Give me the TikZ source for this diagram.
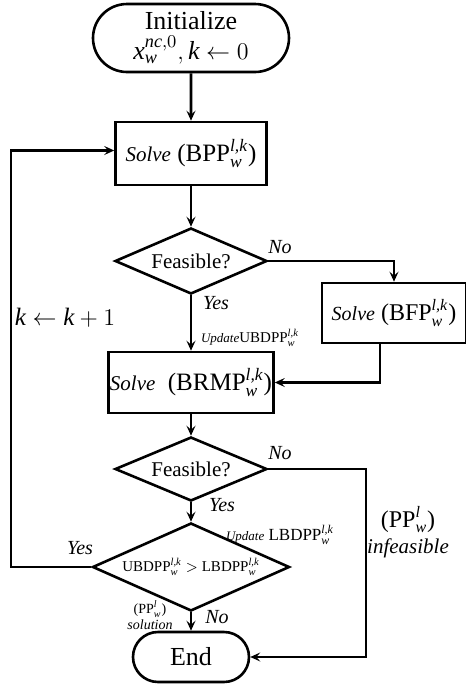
\documentclass[tikz,border=0pt]{standalone}
\usepackage{amsmath}
\usepackage{fontspec}
\setmainfont{Liberation Serif}
\usetikzlibrary{arrows.meta, positioning, shapes.geometric, shapes.misc}

% problem names with sub/superscripts
\newcommand{\prob}[2]{\ensuremath{\mathrm{#1}_{\textit{w}}^{\textit{#2}}}}
\newcommand{\solvetxt}{{\fontsize{10.5}{12}\selectfont\itshape Solve}}

\begin{document}
\begin{tikzpicture}[
    x=0.5pt, y=-0.5pt,
    line width=1.3pt,
    box/.style={draw, rectangle, inner sep=0pt, align=center, font=\fontsize{12.5}{14}\selectfont},
    term/.style={draw, rounded rectangle, inner sep=0pt, align=center, font=\fontsize{13}{15}\selectfont},
    decision/.style={draw, diamond, aspect=2.3, inner sep=0pt, align=center, font=\fontsize{10.5}{12}\selectfont},
    arrow/.style={-{Stealth[length=5pt, width=4.5pt, inset=2pt]}},
    lbl/.style={inner sep=0pt, font=\fontsize{10}{12}\selectfont\itshape},
    small/.style={inner sep=0pt, align=center, font=\fontsize{7}{8}\selectfont}
]
\useasboundingbox (0,0) rectangle (466,687);

\node[term, minimum width=98pt, minimum height=34pt] (init) at (191,38)
    {Initialize\\$\textit{x}_{\textit{w}}^{\textit{nc},0}, \textit{k} \leftarrow 0$};
\node[box, minimum width=75.5pt, minimum height=31.5pt] (bpp) at (191,153.5)
    {\solvetxt\ (\prob{BPP}{l,k})};
\node[decision, minimum width=76pt, minimum height=33pt] (feas1) at (191,261) {Feasible?};
\node[box, minimum width=72pt, minimum height=30pt, font=\fontsize{12}{14}\selectfont] (bfp) at (394,313)
    {{\fontsize{10}{12}\selectfont\itshape Solve} (\prob{BFP}{l,k})};
\node[box, minimum width=82.5pt, minimum height=30.5pt] (brmp) at (191,382.5)
    {\solvetxt\ \ (\prob{BRMP}{l,k})};
\node[decision, minimum width=76pt, minimum height=32pt] (feas2) at (191,469) {Feasible?};
\node[decision, aspect=2.24, minimum width=98.5pt, minimum height=44pt, font=\fontsize{7.5}{9}\selectfont] (cmp) at (191,567)
    {\prob{UBDPP}{l,k} $>$ \prob{LBDPP}{l,k}};
\node[term, minimum width=58pt, minimum height=25pt] (end) at (191,657) {End};

% branch labels
\node[lbl] (no1) at (280,247) {No};
\node[lbl] (yes1) at (216,303) {Yes};
\node[lbl] (no2) at (280,453) {No};
\node[lbl] (yes2) at (222,505) {Yes};
\node[lbl] (yes3) at (80,548) {Yes};
\node[lbl] (no3) at (217,617) {No};

% side notes
\node[inner sep=0pt, font=\fontsize{7.5}{9}\selectfont] (upd1) at (250,338)
    {{\fontsize{6.5}{8}\selectfont\itshape Update}\prob{UBDPP}{l,k}};
\node[inner sep=0pt, font=\fontsize{8.5}{10}\selectfont] (upd2) at (280,535)
    {{\fontsize{6.5}{8}\selectfont\itshape Update} \prob{LBDPP}{l,k}};
\node[inner sep=0pt, font=\fontsize{12.5}{14}\selectfont] (kinc) at (65,318)
    {$\textit{k} \leftarrow \textit{k}+1$};
\node[inner sep=0pt, align=center, font=\fontsize{12}{13}\selectfont] (infeas) at (408,532)
    {(\prob{PP}{l})\\{\fontsize{10.5}{12}\selectfont\itshape infeasible}};
\node[small] (sol) at (150,615) {(\prob{PP}{l})\\\textit{solution}};

\coordinate (rt) at (366,469);
\coordinate (lp) at (11,567);

\draw[arrow] (init) -- (bpp);
\draw[arrow] (bpp) -- (feas1);
\draw[arrow] (feas1) -- (brmp);
\draw[arrow] (feas1.east) -| (bfp.north);
\draw[arrow] ([xshift=-7pt]bfp.south) |- (brmp.east);
\draw[arrow] (brmp) -- (feas2);
\draw[arrow] (feas2) -- (cmp);
\draw[arrow] (feas2.east) -- (rt) |- (end.east);
\draw[arrow] (cmp) -- (end);
\draw[arrow] (cmp.west) -- (lp) |- ([yshift=1.5pt]bpp.west);

\end{tikzpicture}
\end{document}
